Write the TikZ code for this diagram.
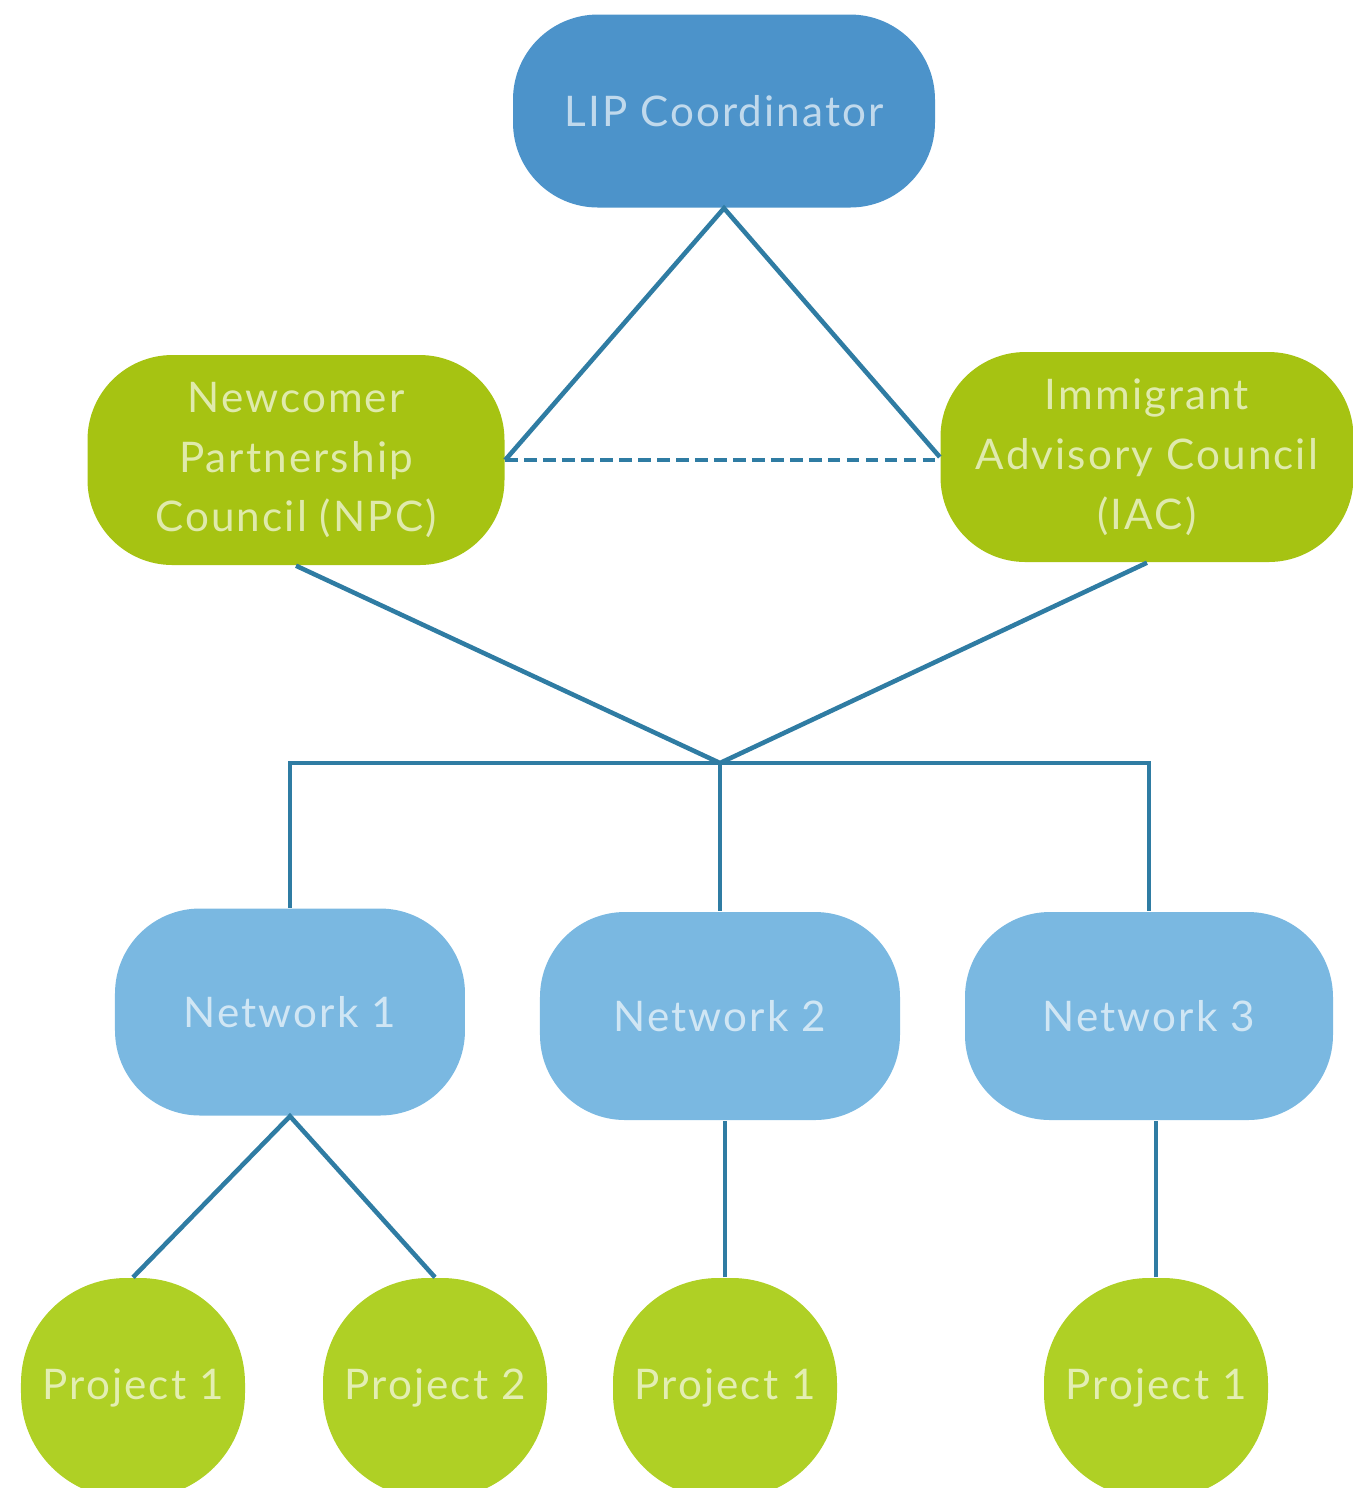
\documentclass[tikz,border=0pt]{standalone}
\usepackage{fontspec}
\setmainfont[LetterSpace=5]{Lato}
\usepackage{tikz}
\usetikzlibrary{positioning,calc}
\definecolor{lipblue}{HTML}{4C93CA}
\definecolor{netblue}{HTML}{7AB8E1}
\definecolor{npcgreen}{HTML}{A6C312}
\definecolor{projgreen}{HTML}{AFD025}
\definecolor{linkblue}{HTML}{2F7CA3}

\begin{document}
\begin{tikzpicture}[
		box/.style={rectangle, rounded corners=0.85cm, align=center, text=white, text opacity=0.65, font=\fontsize{12}{17}\selectfont},
		proj/.style={box, fill=projgreen, rounded corners=1.05cm, minimum width=2.24cm, minimum height=2.2cm},
		link/.style={draw=linkblue, line width=1.3pt}]
		\useasboundingbox (0,0) rectangle (13.53,-14.88);
		
		\node[box, fill=lipblue, minimum width=4.22cm, minimum height=1.93cm] (lip) at (7.24,-1.11) {LIP Coordinator};
		\node[box, fill=npcgreen, minimum width=4.17cm, minimum height=2.1cm] (npc) at (2.96,-4.60) {Newcomer\\Partnership\\Council (NPC)};
		\node[box, fill=npcgreen, minimum width=4.13cm, minimum height=2.1cm] (iac) at (11.47,-4.57) {Immigrant\\Advisory Council\\(IAC)};
		
		\node[box, fill=netblue, minimum width=3.5cm, minimum height=2.07cm] (net1) at (2.90,-10.12) {Network 1};
		\node[box, fill=netblue, minimum width=3.6cm, minimum height=2.08cm] (net2) at (7.20,-10.16) {Network 2};
		\node[box, fill=netblue, minimum width=3.68cm, minimum height=2.08cm] (net3) at (11.49,-10.16) {Network 3};
		
		\node[proj] (p1) at (1.33,-13.88) {Project 1};
		\node[proj] (p2) at (4.35,-13.88) {Project 2};
		\node[proj] (p3) at (7.25,-13.88) {Project 1};
		\node[proj] (p4) at (11.56,-13.88) {Project 1};
		
		\coordinate (hub) at (7.20,-7.63);
		
		\draw[link] (npc.east) -- (lip.south) -- (iac.west);
		\draw[link, dash pattern=on 3.6pt off 1.8pt] (npc.east) -- (npc.east -| iac.west);
		\draw[link] (npc.south) -- (hub) -- (iac.south);
		\draw[link] (net1.north) |- (hub) -| (net3.north);
		\draw[link] (hub) -- (net2.north);
		\draw[link] (p1.north) -- (net1.south) -- (p2.north);
		\draw[link] (p3.north) -- (p3.north |- net2.south);
		\draw[link] (p4.north) -- (p4.north |- net3.south);
	\end{tikzpicture}
\end{document}
